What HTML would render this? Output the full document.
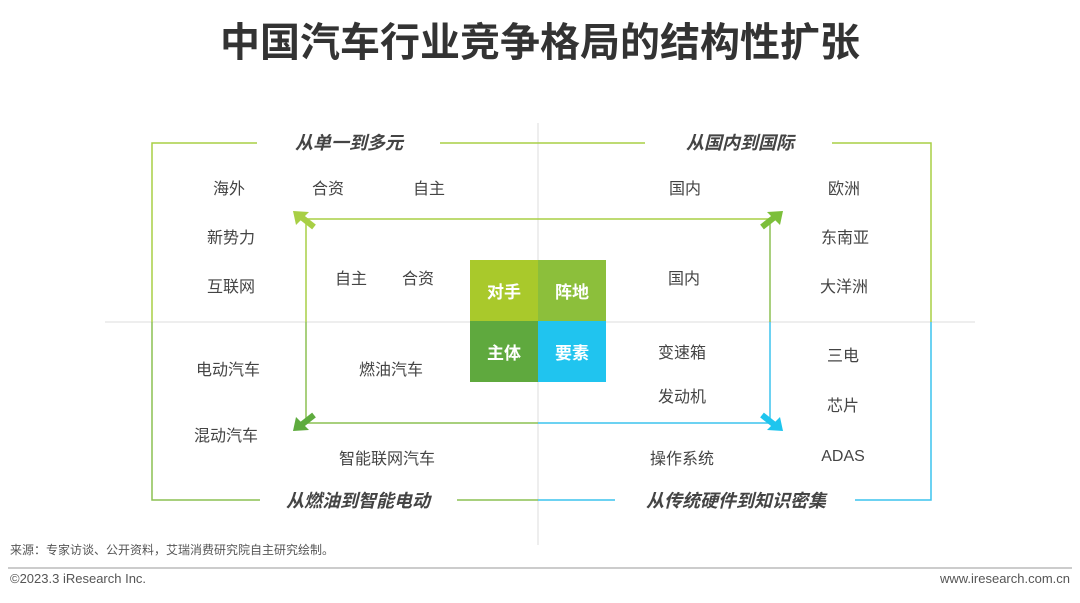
<!DOCTYPE html>
<html><head><meta charset="utf-8"><style>
body{margin:0;width:1080px;height:603px;background:#fff;position:relative;overflow:hidden;font-family:"Liberation Sans","Noto Sans CJK SC",sans-serif;color:#444}
.t{position:absolute;font-size:16px;color:#444;white-space:nowrap;transform:translate(-50%,-50%)}
.h{position:absolute;font-size:18px;font-weight:bold;font-style:italic;color:#444;white-space:nowrap;transform:translate(-50%,-50%)}
.sq{position:absolute;width:68px;height:61px;color:#fff;font-weight:bold;font-size:17px;display:flex;align-items:center;justify-content:center}
</style></head><body>
<div style="position:absolute;left:0;width:1080px;top:10px;text-align:center;font-size:40px;font-weight:bold;color:#333">中国汽车行业竞争格局的结构性扩张</div>
<svg width="1080" height="603" style="position:absolute;left:0;top:0">
<g stroke="#ddd" stroke-width="1"><line x1="538" y1="123" x2="538" y2="545"/><line x1="105" y1="322" x2="975" y2="322"/></g>
<g fill="none" stroke-width="1.5">
<polyline stroke="#a8cf45" points="257,143 152,143 152,322"/>
<line stroke="#a8cf45" x1="440" y1="143" x2="645" y2="143"/>
<polyline stroke="#a8cf45" points="832,143 931,143 931,322"/>
<polyline stroke="#8cc152" points="152,322 152,500 260,500"/>
<line stroke="#8cc152" x1="457" y1="500" x2="538" y2="500"/>
<line stroke="#3cc3ee" x1="538" y1="500" x2="615" y2="500"/>
<polyline stroke="#3cc3ee" points="931,322 931,500 855,500"/>
<line stroke="#a8cf45" x1="306" y1="219" x2="770" y2="219"/>
<line stroke="#a8cf45" x1="306" y1="219" x2="306" y2="322"/>
<line stroke="#8cc152" x1="306" y1="322" x2="306" y2="423"/>
<line stroke="#8cc152" x1="306" y1="423" x2="538" y2="423"/>
<line stroke="#3cc3ee" x1="538" y1="423" x2="770" y2="423"/>
<line stroke="#8cc152" x1="770" y1="219" x2="770" y2="322"/>
<line stroke="#3cc3ee" x1="770" y1="322" x2="770" y2="423"/>
</g>
<g stroke-width="6" stroke-linecap="butt">
<line stroke="#a8cf45" x1="314" y1="227" x2="300" y2="216"/><polygon fill="#a8cf45" points="293,211 309,212 296,225"/>
<line stroke="#7cbf3a" x1="762" y1="227" x2="776" y2="216"/><polygon fill="#7cbf3a" points="783,211 767,212 780,225"/>
<line stroke="#5eab3e" x1="314" y1="415" x2="300" y2="426"/><polygon fill="#5eab3e" points="293,431 296,417 309,430"/>
<line stroke="#1ec5ee" x1="762" y1="415" x2="776" y2="426"/><polygon fill="#1ec5ee" points="783,431 780,417 767,430"/>
</g>
<line x1="8" y1="568" x2="1072" y2="568" stroke="#999" stroke-width="1"/>
</svg>
<div class="h" style="left:349px;top:142px">从单一到多元</div>
<div class="h" style="left:740px;top:142px">从国内到国际</div>
<div class="h" style="left:358px;top:500px">从燃油到智能电动</div>
<div class="h" style="left:736px;top:500px">从传统硬件到知识密集</div>
<div class="t" style="left:229px;top:187px">海外</div>
<div class="t" style="left:328px;top:187px">合资</div>
<div class="t" style="left:429px;top:187px">自主</div>
<div class="t" style="left:231px;top:236px">新势力</div>
<div class="t" style="left:231px;top:285px">互联网</div>
<div class="t" style="left:351px;top:277px">自主</div>
<div class="t" style="left:418px;top:277px">合资</div>
<div class="t" style="left:685px;top:187px">国内</div>
<div class="t" style="left:684px;top:277px">国内</div>
<div class="t" style="left:844px;top:187px">欧洲</div>
<div class="t" style="left:845px;top:236px">东南亚</div>
<div class="t" style="left:844px;top:285px">大洋洲</div>
<div class="t" style="left:228px;top:368px">电动汽车</div>
<div class="t" style="left:391px;top:368px">燃油汽车</div>
<div class="t" style="left:226px;top:434px">混动汽车</div>
<div class="t" style="left:387px;top:457px">智能联网汽车</div>
<div class="t" style="left:682px;top:351px">变速箱</div>
<div class="t" style="left:682px;top:395px">发动机</div>
<div class="t" style="left:682px;top:457px">操作系统</div>
<div class="t" style="left:843px;top:354px">三电</div>
<div class="t" style="left:843px;top:404px">芯片</div>
<div class="t" style="left:843px;top:457px">ADAS</div>
<div class="sq" style="left:470px;top:260px;background:#a9c92b">对手</div>
<div class="sq" style="left:538px;top:260px;background:#8cbf3b">阵地</div>
<div class="sq" style="left:470px;top:321px;background:#5fa93e">主体</div>
<div class="sq" style="left:538px;top:321px;background:#20c4ef">要素</div>
<div style="position:absolute;left:10px;top:541px;font-size:12px;color:#555">来源：专家访谈、公开资料，艾瑞消费研究院自主研究绘制。</div>
<div style="position:absolute;left:10px;top:571px;font-size:13px;color:#555">©2023.3 iResearch Inc.</div>
<div style="position:absolute;right:10px;top:571px;font-size:13px;color:#555">www.iresearch.com.cn</div>
</body></html>
